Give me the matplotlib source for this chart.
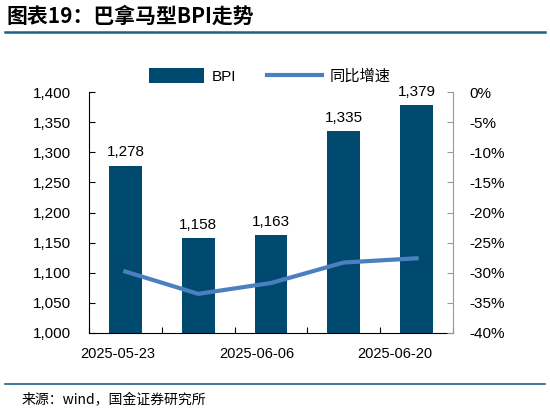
import numpy as np
import matplotlib.pyplot as plt
from matplotlib.ticker import FuncFormatter

plt.rcParams['font.family'] = ['Liberation Sans', 'Noto Sans CJK SC', 'DejaVu Sans']

# 数据
dates = ['2025-05-23', '2025-05-30', '2025-06-06', '2025-06-13', '2025-06-20']
bpi = [1278, 1158, 1163, 1335, 1379]
yoy = [-29.8, -33.5, -31.7, -28.3, -27.6]  # 同比增速 %
shown_labels = ['2025-05-23', '2025-06-06', '2025-06-20']
label_pos = [-0.1, 1.8, 3.7]  # 横轴标签位置（与原图一致，略偏左）

bar_color = '#004a70'
line_color = '#4a80c0'

fig = plt.figure(figsize=(5.5, 4.13), dpi=100)
ax = fig.add_axes([89/550, 1 - 333/413, 364/550, 241/413])
ax2 = ax.twinx()

x = np.arange(len(dates))
ax.bar(x, bpi, width=0.45, color=bar_color, label='BPI', zorder=2)
for xi, v in zip(x, bpi):
    ax.text(xi, v + 10, f'{v:,}', ha='center', va='bottom', fontsize=11)

ax2.plot(x, yoy, color=line_color, lw=3, label='同比增速', zorder=3)

ax.set_xlim(-0.5, 4.5)
ax.set_ylim(1000, 1400)
ax.set_yticks(np.arange(1000, 1401, 50))
ax.yaxis.set_major_formatter(FuncFormatter(lambda v, p: f'{int(v):,}'))
ax2.set_ylim(-40, 0)
ax2.set_yticks(np.arange(-40, 1, 5))
ax2.yaxis.set_major_formatter(FuncFormatter(lambda v, p: f'{int(v)}%'))

ax.set_xticks(np.arange(-0.5, 5, 1))
ax.set_xticklabels([])
ax.set_xticks(label_pos, minor=True)
ax.set_xticklabels(shown_labels, minor=True)
ax.tick_params(axis='x', which='major', direction='in', length=4)
ax.tick_params(axis='x', which='minor', length=0, pad=10, labelsize=10.5)
ax.tick_params(axis='y', direction='in', length=4, labelsize=11, pad=13)
ax2.tick_params(axis='y', direction='in', length=4, labelsize=11, pad=12,
                color='#999999')

ax.spines['top'].set_visible(False)
ax2.spines['top'].set_visible(False)
ax2.spines['right'].set_color('#999999')
ax.spines['right'].set_visible(False)
ax2.spines['left'].set_visible(False)
ax2.spines['bottom'].set_visible(False)

h1, l1 = ax.get_legend_handles_labels()
h2, l2 = ax2.get_legend_handles_labels()
fig.legend(h1 + h2, l1 + l2, loc='center', bbox_to_anchor=(270/550, 1 - 76/413),
           ncol=2, frameon=False, fontsize=11, handlelength=3.6,
           handleheight=1.1, columnspacing=2.0, handletextpad=0.5)

# 标题与来源
fig.text(6/550, 1 - 16/413, '图表19：巴拿马型BPI走势', fontsize=15, fontweight='bold',
         style='italic', va='center', ha='left',
         family=['Noto Sans CJK SC', 'DejaVu Sans'])
fig.add_artist(plt.Line2D([5/550, 545/550], [1 - 32/413, 1 - 32/413],
                          color='#1f5f87', lw=1.8))
fig.add_artist(plt.Line2D([5/550, 545/550], [1 - 384/413, 1 - 384/413],
                          color='#1f5f87', lw=1.2))
fig.text(22/550, 1 - 400/413, '来源：wind，国金证券研究所', fontsize=10,
         va='center', ha='left', family=['Noto Sans CJK SC', 'DejaVu Sans'])

fig.savefig('out.png', dpi=100)
